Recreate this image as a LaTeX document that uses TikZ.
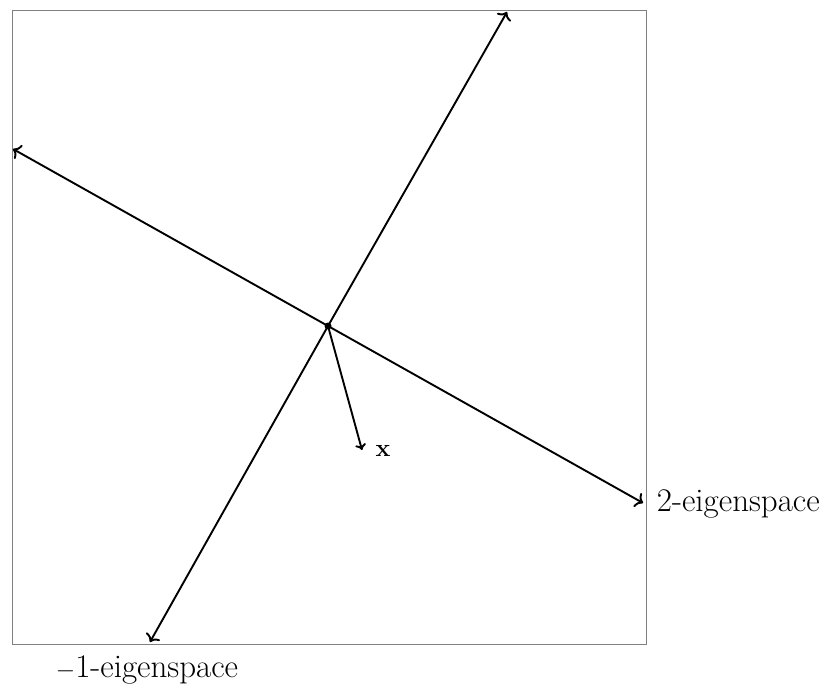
\documentclass[tikz,border=0pt]{standalone}
\usetikzlibrary{arrows.meta}
\begin{document}
\begin{tikzpicture}[x=1pt,y=-1pt, line width=1.9pt,
  axis/.style={-{To[length=7pt,width=16pt]}},
  lbl/.style={font=\fontsize{33}{38}\selectfont, inner sep=0pt}]
\useasboundingbox (0,0) rectangle (837,692);
\draw[gray, line width=0.9pt] (12,10) rectangle (646,644);
\coordinate (o) at (328,326);
\coordinate (pR) at (643,503);
\coordinate (pL) at (13,149);
\coordinate (pT) at (507,12);
\coordinate (pB) at (150,642);
\coordinate (px) at (362,450);
\draw[axis] (o) -- (pR);
\draw[axis] (o) -- (pL);
\draw[axis] (o) -- (pT);
\draw[axis] (o) -- (pB);
\draw[-{To[length=6pt,width=11pt]}] (o) -- (px);
\fill (o) circle (3.5);
\node[lbl, anchor=west] (l2) at (656,504) {2-eigenspace};
\node[lbl] (l1) at (147,670) {$-$1-eigenspace};
\node[lbl] (lx) at (383,451) {$\mathbf{x}$};
\end{tikzpicture}
\end{document}
